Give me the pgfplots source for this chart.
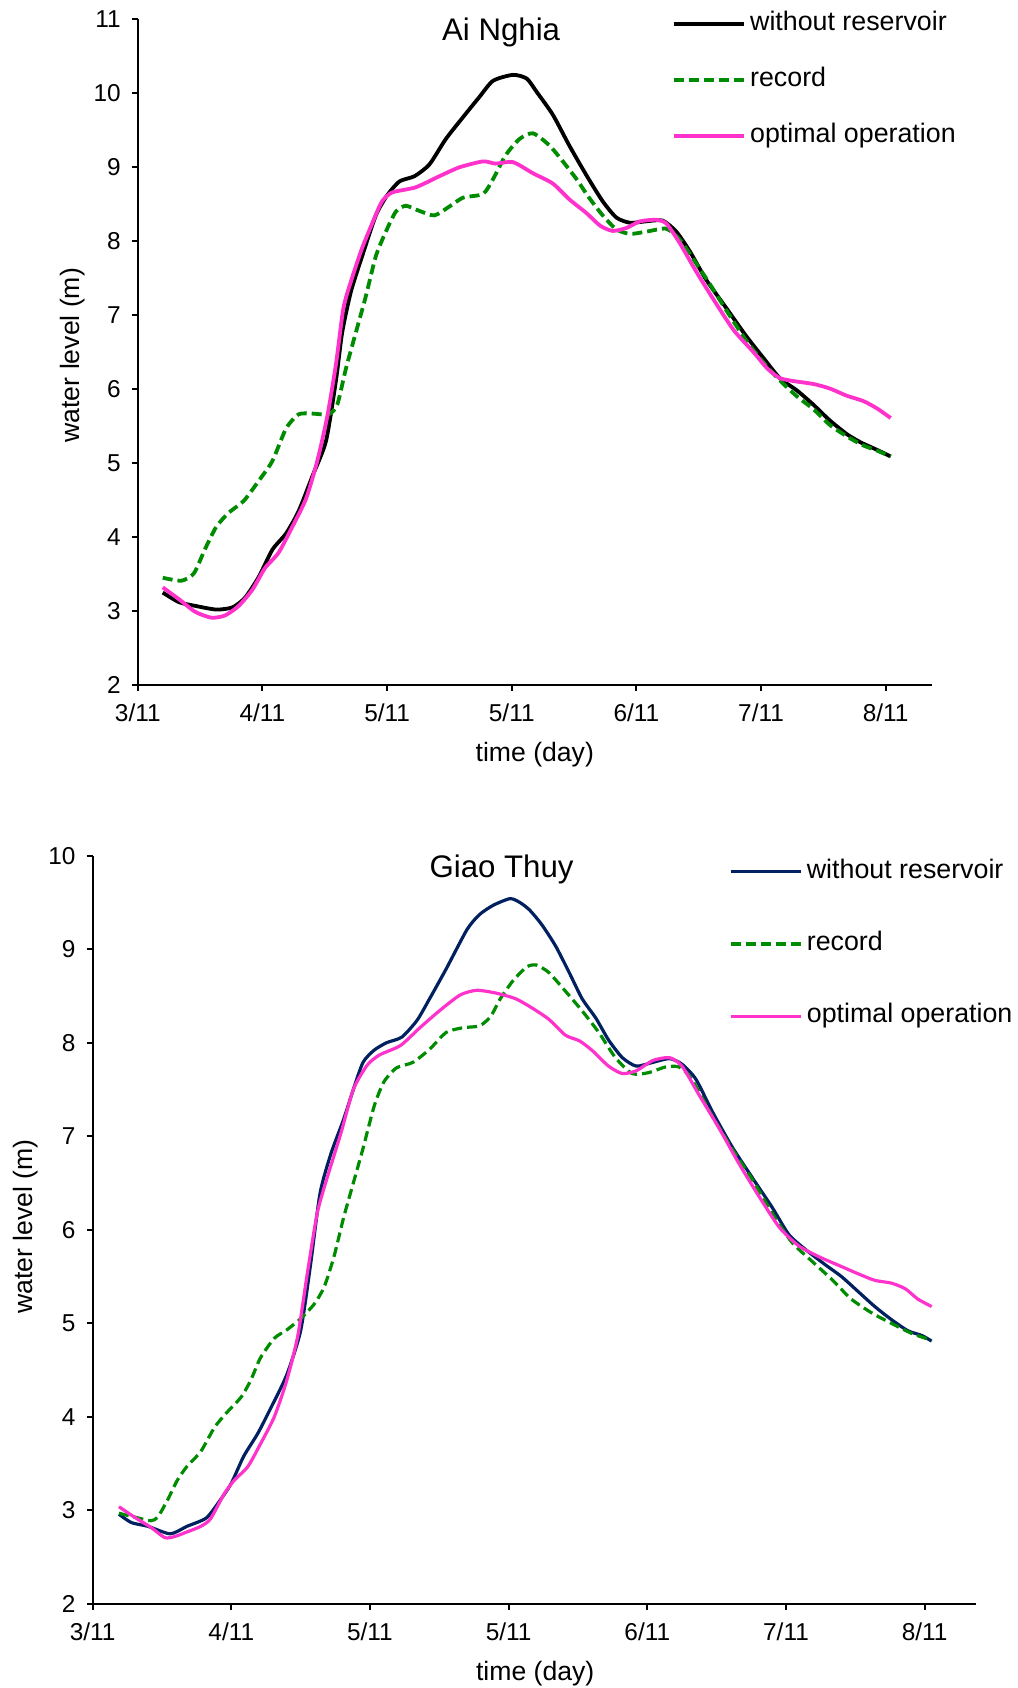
\documentclass[border=0pt]{standalone}
\usepackage{fontspec}
\setmainfont{Liberation Sans}
\usepackage{pgfplots}
\pgfplotsset{compat=1.18}
\definecolor{cblack}{RGB}{0,0,0}
\definecolor{cgreen}{RGB}{0,140,0}
\definecolor{cpink}{RGB}{255,51,204}
\definecolor{cnavy}{RGB}{0,32,96}
\pgfplotsset{
  common/.style={
    scale only axis,
    clip mode=individual,
    axis x line*=bottom, axis y line*=left,
    axis line style={line width=1pt},
    tick style={line width=1pt, black},
    tick align=outside,
    major tick length=3pt,
    xmin=0, xmax=6.37,
    xtick={0,1,2,3,4,5,6},
    xticklabels={3/11,4/11,5/11,5/11,6/11,7/11,8/11},
    /pgf/number format/assume math mode=true,
    ticklabel style={font=\fontsize{12.2}{14}\selectfont},
    xticklabel style={yshift=-3pt},
    yticklabel style={xshift=-2pt},
    label style={font=\fontsize{13.3}{15}\selectfont},
    legend cell align=left,
    legend image code/.code={\draw[#1] (0pt,0pt) -- (35pt,0pt);},
    every axis plot/.append style={smooth, tension=0.4},
  }
}
\begin{document}
\begin{tikzpicture}
\useasboundingbox (0,0) rectangle (509pt,844pt);
% ---------------- Ai Nghia ----------------
\begin{axis}[common,
  at={(68.9pt,501.5pt)}, anchor=south west,
  width=397pt, height=332.8pt,
  ymin=2, ymax=11, ytick={2,3,...,11},
  xlabel={time (day)}, ylabel={water level (m)},
  xlabel style={at={(rel axis cs:0.5,-0.104)}, anchor=center},
  ylabel style={at={(rel axis cs:-0.0827,0.4955)}, anchor=center},
  legend style={at={(0.672,0.909)}, anchor=west, draw=none, fill=none,
    inner sep=0pt, row sep=13.1pt, font=\fontsize{13.4}{15}\selectfont,
    nodes={inner sep=1.3pt, text height=9.6pt, text depth=2.8pt},
    /tikz/every even column/.append style={column sep=0pt},
    /tikz/every odd column/.append style={column sep=1pt}},
]
\addplot[cblack, line width=1.9pt] coordinates {
(0.20,3.25)(0.33,3.12)(0.46,3.07)(0.63,3.02)(0.76,3.05)(0.86,3.18)(0.97,3.46)(1.08,3.83)(1.19,4.05)(1.29,4.35)(1.40,4.82)(1.51,5.30)(1.59,6.12)(1.64,6.77)(1.71,7.32)(1.80,7.80)(1.91,8.35)(2.00,8.62)(2.10,8.81)(2.22,8.88)(2.34,9.04)(2.47,9.38)(2.61,9.68)(2.74,9.95)(2.85,10.17)(3.01,10.25)(3.12,10.20)(3.20,10.02)(3.33,9.71)(3.46,9.30)(3.60,8.89)(3.73,8.54)(3.84,8.32)(3.95,8.25)(4.08,8.27)(4.21,8.28)(4.32,8.13)(4.43,7.86)(4.56,7.48)(4.72,7.10)(4.88,6.72)(5.02,6.42)(5.15,6.15)(5.29,5.98)(5.42,5.79)(5.55,5.58)(5.69,5.39)(5.80,5.28)(5.93,5.18)(6.04,5.09)};
\addlegendentry{without reservoir}
\addplot[cgreen, line width=1.9pt, dash pattern=on 5pt off 2.5pt] coordinates {
(0.20,3.45)(0.35,3.41)(0.45,3.51)(0.54,3.84)(0.63,4.14)(0.73,4.33)(0.85,4.49)(0.97,4.76)(1.08,5.03)(1.19,5.47)(1.29,5.66)(1.40,5.67)(1.53,5.66)(1.60,5.79)(1.67,6.28)(1.75,6.77)(1.83,7.26)(1.91,7.80)(1.99,8.13)(2.07,8.40)(2.15,8.48)(2.26,8.41)(2.38,8.35)(2.50,8.47)(2.61,8.59)(2.77,8.64)(2.85,8.84)(2.95,9.16)(3.06,9.38)(3.17,9.46)(3.30,9.30)(3.41,9.08)(3.52,8.84)(3.62,8.59)(3.73,8.35)(3.84,8.16)(3.95,8.10)(4.08,8.13)(4.24,8.17)(4.35,8.02)(4.46,7.75)(4.59,7.42)(4.72,7.07)(4.88,6.66)(5.02,6.36)(5.15,6.12)(5.29,5.90)(5.42,5.73)(5.55,5.52)(5.69,5.36)(5.82,5.24)(5.93,5.17)(6.04,5.09)};
\addlegendentry{record}
\addplot[cpink, line width=1.9pt] coordinates {
(0.20,3.32)(0.33,3.16)(0.46,2.99)(0.59,2.91)(0.70,2.94)(0.81,3.07)(0.92,3.29)(1.02,3.58)(1.13,3.79)(1.24,4.14)(1.35,4.52)(1.44,5.03)(1.52,5.63)(1.59,6.34)(1.65,7.10)(1.72,7.51)(1.80,7.91)(1.90,8.32)(1.96,8.54)(2.04,8.66)(2.23,8.73)(2.42,8.88)(2.58,9.00)(2.77,9.08)(2.87,9.05)(3.01,9.07)(3.17,8.92)(3.33,8.78)(3.46,8.57)(3.60,8.38)(3.71,8.21)(3.81,8.14)(3.92,8.18)(4.03,8.27)(4.16,8.29)(4.24,8.24)(4.35,7.97)(4.48,7.59)(4.62,7.21)(4.78,6.80)(4.94,6.50)(5.05,6.28)(5.15,6.15)(5.26,6.11)(5.42,6.07)(5.55,6.01)(5.69,5.91)(5.82,5.84)(5.93,5.74)(6.04,5.61)};
\addlegendentry{optimal operation}
\node[font=\fontsize{15.6}{18}\selectfont] at (rel axis cs:0.4576,0.98) {Ai Nghia};
\end{axis}
% ---------------- Giao Thuy ----------------
\begin{axis}[common,
  at={(46.3pt,42pt)}, anchor=south west,
  width=441.7pt, height=374.2pt,
  ymin=2, ymax=10, ytick={2,3,...,10},
  xlabel={time (day)}, ylabel={water level (m)},
  xlabel style={at={(rel axis cs:0.501,-0.0926)}, anchor=center},
  ylabel style={at={(rel axis cs:-0.0755,0.5045)}, anchor=center},
  legend style={at={(0.72,0.882)}, anchor=west, draw=none, fill=none,
    inner sep=0pt, row sep=21.1pt, font=\fontsize{13.4}{15}\selectfont,
    nodes={inner sep=1.3pt, text height=9.6pt, text depth=2.8pt},
    /tikz/every even column/.append style={column sep=0pt},
    /tikz/every odd column/.append style={column sep=1pt}},
]
\addplot[cnavy, line width=1.6pt] coordinates {
(0.19,2.96)(0.28,2.87)(0.40,2.83)(0.56,2.75)(0.68,2.83)(0.82,2.92)(0.92,3.11)(1.00,3.29)(1.09,3.58)(1.19,3.82)(1.28,4.08)(1.40,4.45)(1.50,4.92)(1.57,5.61)(1.64,6.39)(1.72,6.82)(1.81,7.18)(1.88,7.50)(1.95,7.79)(2.03,7.92)(2.12,8.00)(2.23,8.06)(2.34,8.24)(2.43,8.47)(2.55,8.79)(2.70,9.21)(2.79,9.37)(2.89,9.47)(3.01,9.54)(3.08,9.50)(3.15,9.42)(3.24,9.26)(3.34,9.03)(3.44,8.74)(3.53,8.47)(3.63,8.26)(3.72,8.03)(3.82,7.84)(3.92,7.75)(4.04,7.79)(4.16,7.83)(4.25,7.77)(4.35,7.61)(4.47,7.26)(4.61,6.89)(4.76,6.55)(4.90,6.24)(5.02,5.95)(5.14,5.79)(5.28,5.63)(5.40,5.50)(5.52,5.34)(5.64,5.18)(5.76,5.04)(5.88,4.92)(5.98,4.87)(6.05,4.81)};
\addlegendentry{without reservoir}
\addplot[cgreen, line width=1.6pt, dash pattern=on 5pt off 2.5pt] coordinates {
(0.19,2.97)(0.30,2.93)(0.42,2.89)(0.47,2.93)(0.54,3.11)(0.61,3.32)(0.68,3.47)(0.78,3.63)(0.88,3.89)(0.97,4.05)(1.07,4.21)(1.14,4.39)(1.21,4.63)(1.31,4.84)(1.40,4.93)(1.50,5.05)(1.60,5.21)(1.67,5.39)(1.74,5.71)(1.81,6.13)(1.88,6.50)(1.95,6.87)(2.03,7.32)(2.10,7.58)(2.19,7.73)(2.31,7.79)(2.43,7.93)(2.55,8.11)(2.67,8.16)(2.79,8.18)(2.87,8.28)(2.94,8.47)(3.03,8.66)(3.13,8.81)(3.20,8.83)(3.29,8.75)(3.41,8.55)(3.53,8.34)(3.65,8.11)(3.77,7.84)(3.89,7.67)(4.01,7.68)(4.13,7.74)(4.23,7.74)(4.32,7.61)(4.47,7.21)(4.61,6.87)(4.76,6.53)(4.90,6.18)(5.04,5.87)(5.19,5.66)(5.33,5.47)(5.47,5.26)(5.62,5.11)(5.76,5.00)(5.91,4.89)(6.05,4.82)};
\addlegendentry{record}
\addplot[cpink, line width=1.6pt] coordinates {
(0.19,3.04)(0.30,2.93)(0.42,2.82)(0.52,2.71)(0.59,2.72)(0.68,2.77)(0.78,2.83)(0.85,2.91)(0.95,3.18)(1.02,3.32)(1.12,3.47)(1.21,3.71)(1.31,4.00)(1.40,4.39)(1.48,4.87)(1.55,5.55)(1.62,6.18)(1.69,6.55)(1.79,7.03)(1.88,7.50)(1.98,7.76)(2.07,7.87)(2.22,7.97)(2.36,8.16)(2.50,8.34)(2.65,8.51)(2.77,8.56)(2.91,8.53)(3.05,8.47)(3.17,8.37)(3.29,8.25)(3.41,8.08)(3.51,8.02)(3.60,7.92)(3.72,7.75)(3.82,7.67)(3.92,7.70)(4.04,7.81)(4.16,7.84)(4.25,7.75)(4.37,7.45)(4.52,7.08)(4.66,6.71)(4.80,6.37)(4.95,6.03)(5.09,5.83)(5.24,5.71)(5.38,5.62)(5.52,5.53)(5.64,5.46)(5.76,5.43)(5.86,5.37)(5.95,5.26)(6.05,5.18)};
\addlegendentry{optimal operation}
\node[font=\fontsize{15.6}{18}\selectfont] at (rel axis cs:0.463,0.982) {Giao Thuy};
\end{axis}
\end{tikzpicture}
\end{document}
